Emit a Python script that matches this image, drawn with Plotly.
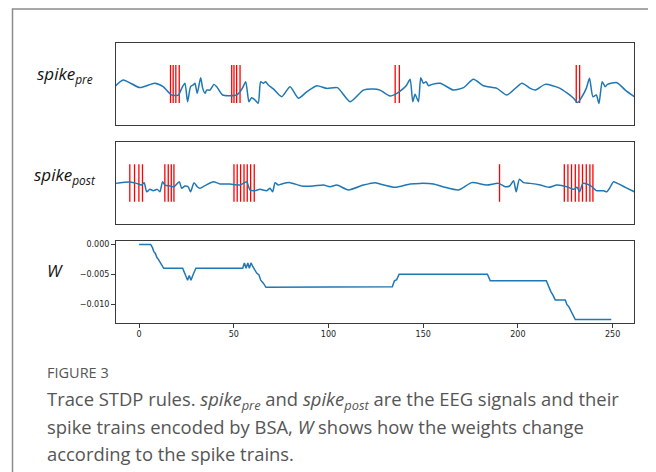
import plotly.graph_objects as go

# ---------------- data ----------------
pre_t = [-12.45, -8.4, 0.4, 8.3, 12.7, 17.2, 20.7, 22.5, 24.2, 25.6, 27.2, 28.6, 29.5, 30.7, 32.5, 33.6,
         34.8, 35.7, 37.4, 39.5, 41.0, 44.1, 51.5, 53.3, 54.7, 56.3, 58.0, 59.4, 61.2, 62.9, 64.2, 65.6,
         66.8, 68.2, 70.9, 75.3, 79.7, 84.1, 88.5, 93.8, 99.1, 104.7, 111.4, 118.4, 123.7, 127.2, 132.5,
         136.1, 139.6, 141.3, 143.1, 144.5, 145.7, 147.5, 148.7, 150.1, 151.5, 152.8, 154.6, 159.0, 166.0,
         171.3, 176.5, 181.8, 188.9, 194.2, 202.1, 206.5, 209.1, 214.4, 222.3, 229.4, 231.5, 233.8, 236.1,
         237.8, 239.6, 241.4, 242.8, 244.5, 246.1, 247.3, 252.3, 256.7, 261.45]
pre_v = [-0.11, 0.21, -0.19, 0.04, -0.14, -0.58, -0.58, -0.23, 0.04, -0.93, -0.14, -0.05, 0.04, -0.49, 0.33, -0.23,
         -0.49, -0.32, -0.32, -0.02, -0.14, -0.58, -0.58, -0.41, -0.19, 0.12, -0.93, -0.72, -0.84, -1.02, 0.12, 0.04,
         0.12, -0.05, -0.26, -0.67, -0.14, -0.75, -0.41, -0.09, -0.23, -0.19, -0.93, -0.32, -0.26, -0.32, -0.63,
         -0.49, -0.23, -0.05, 0.25, -0.93, -0.54, -0.93, 0.33, 0.04, 0.12, -0.09, -0.02, 0.04, -0.32,
         -0.19, 0.25, -0.09, -0.23, -0.58, 0.04, -0.23, -0.32, -0.02, -0.23, -0.75, -0.98, -0.67, -0.23,
         0.30, -0.67, -0.58, -1.02, 0.12, -0.14, -0.02, 0.07, -0.32, -0.67]
pre_spikes = [16.6, 18.0, 19.4, 21.2, 48.9, 50.1, 51.5, 53.3, 135.2, 137.4, 230.8, 232.6]

post_t = [-12.45, -4.9, -1.3, 1.3, 2.7, 4.0, 5.7, 7.5, 9.6, 11.0, 12.4, 13.6, 16.3, 18.4, 21.2, 22.5, 24.2,
          25.9, 27.2, 29.0, 30.7, 32.1, 35.3, 39.2, 42.7, 48.0, 53.3, 56.8, 58.5, 61.2, 63.8, 67.4, 69.1,
          70.5, 71.8, 73.5, 75.3, 79.7, 85.9, 92.0, 97.3, 100.8, 104.4, 110.5, 118.4, 124.6, 127.2, 135.2,
          143.1, 148.4, 155.4, 161.6, 168.6, 175.7, 183.6, 189.7, 193.3, 195.6, 197.7, 199.1, 200.8, 203.0,
          206.5, 211.8, 216.2, 220.6, 225.9, 229.4, 231.2, 232.6, 234.3, 236.5, 239.1, 241.4, 245.2, 247.0,
          248.4, 250.5, 253.2, 256.7, 261.45]
post_v = [-0.02, 0.05, -0.02, -0.11, 0.02, -0.47, -0.34, -0.41, -0.34, -0.47, 0.07, -0.11, -0.16, -0.20, 0.07, -0.28, -0.16,
          -0.20, -0.47, 0.02, -0.20, -0.28, -0.11, 0.07, -0.05, -0.05, -0.11, 0.07, -0.37, -0.41, -0.34, -0.41, -0.28,
          -0.47, 0.02, -0.11, -0.05, 0.02, -0.16, -0.16, -0.11, -0.20, -0.11, -0.37, -0.11, 0.02, -0.05, -0.23,
          -0.05, -0.02, -0.05, -0.23, -0.37, 0.02, -0.11, -0.02, -0.20, -0.16, 0.12, -0.47, 0.20, 0.02,
          -0.02, -0.11, -0.23, -0.11, -0.20, -0.34, -0.23, -0.47, -0.02, -0.05, -0.20, -0.41, -0.41, -0.47,
          -0.28, 0.07, -0.05, -0.23, -0.47]
post_spikes = [-4.9, -2.4, -0.1, 1.8, 13.6, 15.4, 17.0, 18.4, 50.1, 51.8, 53.6, 55.4, 57.1, 58.9, 60.8,
               190.3, 224.5, 226.4, 228.3, 230.3, 232.2, 234.1, 236.1, 238.0, 239.6]

w_t = [0, 6.1, 7.0, 7.8, 8.6, 9.4, 10.2, 11.0, 11.8, 13.0, 23.0, 24.3, 25.6, 26.5, 27.4, 28.6, 30.0,
       54.7, 55.6, 56.5, 57.4, 58.2, 59.1, 60.0, 61.2, 62.1, 63.3, 64.2, 65.6, 67.0, 133.7, 134.8, 136.0,
       137.3, 183.9, 185.4, 215.0, 216.2, 217.4, 218.5, 219.7, 225.0, 225.9, 226.8, 228.0, 229.1, 230.3, 249.3]
w_v = [0, 0, -0.0005, -0.0012, -0.0015, -0.0022, -0.0025, -0.0030, -0.0033, -0.0040, -0.0040, -0.0050,
       -0.0060, -0.0052, -0.0060, -0.0050, -0.0040, -0.0040, -0.0031, -0.0040, -0.0031, -0.0040, -0.0031,
       -0.0037, -0.0043, -0.0048, -0.0051, -0.0060, -0.0065, -0.0072, -0.0071, -0.0061, -0.0059, -0.0050,
       -0.0050, -0.0061, -0.0061, -0.0071, -0.0079, -0.0085, -0.0093, -0.0093, -0.0101, -0.0104, -0.0112,
       -0.0118, -0.0126, -0.0126]

x_ticks = [0, 50, 100, 150, 200, 250]
w_ticks = [0.0, -0.005, -0.010]
w_tick_text = ["0.000", "\u22120.005", "\u22120.010"]

spike_half = 1.0
BLUE = "#1f77b4"
RED = "#ff0000"


def spike_xy(times):
    xs, ys = [], []
    for s in times:
        xs += [s, s, None]
        ys += [-spike_half, spike_half, None]
    return xs, ys


fig = go.Figure()

sx, sy = spike_xy(pre_spikes)
fig.add_trace(go.Scatter(x=sx, y=sy, mode="lines", line=dict(color=RED, width=1.3),
                         xaxis="x", yaxis="y", hoverinfo="skip"))
fig.add_trace(go.Scatter(x=pre_t, y=pre_v, mode="lines",
                         line=dict(color=BLUE, width=1.5, shape="spline", smoothing=0.6),
                         xaxis="x", yaxis="y"))
sx, sy = spike_xy(post_spikes)
fig.add_trace(go.Scatter(x=sx, y=sy, mode="lines", line=dict(color=RED, width=1.3),
                         xaxis="x2", yaxis="y2", hoverinfo="skip"))
fig.add_trace(go.Scatter(x=post_t, y=post_v, mode="lines",
                         line=dict(color=BLUE, width=1.5, shape="spline", smoothing=0.6),
                         xaxis="x2", yaxis="y2"))
fig.add_trace(go.Scatter(x=w_t, y=w_v, mode="lines", line=dict(color=BLUE, width=1.5),
                         xaxis="x3", yaxis="y3"))

# the page body has an 8px margin: the figure is sized to the visible area
OFF = 8
W, H = 656 - OFF, 472 - OFF


def px(x):
    return (x - OFF) / W


def py(y):
    return 1 - (y - OFF) / H


xdom = [px(115.5), px(634.3)]
xr = [-12.45, 261.45]
spine = dict(showline=True, linecolor="#3a3a3a", linewidth=1, mirror=True, zeroline=False, showgrid=False)

fig.update_layout(
    width=W, height=H, margin=dict(l=0, r=0, t=0, b=0),
    paper_bgcolor="white", plot_bgcolor="white", showlegend=False,
    xaxis=dict(domain=xdom, range=xr, showticklabels=False, ticks="", anchor="y", **spine),
    yaxis=dict(domain=[py(125), py(42.7)], range=[-2.158, 2.174], showticklabels=False,
               ticks="", anchor="x", **spine),
    xaxis2=dict(domain=xdom, range=xr, showticklabels=False, ticks="", anchor="y2", **spine),
    yaxis2=dict(domain=[py(223.5), py(141.7)], range=[-2.166, 2.209], showticklabels=False,
                ticks="", anchor="x2", **spine),
    xaxis3=dict(domain=xdom, range=xr, tickvals=x_ticks, ticks="outside", ticklen=3.5, tickwidth=1,
                tickcolor="#3a3a3a", tickfont=dict(family="DejaVu Sans", size=8, color="#222"),
                anchor="y3", **spine),
    yaxis3=dict(domain=[py(323.3), py(241)], range=[-0.01323, 0.00058], tickvals=w_ticks,
                ticktext=w_tick_text, ticks="outside", ticklen=3.5, tickwidth=1, tickcolor="#3a3a3a",
                tickfont=dict(family="DejaVu Sans", size=8, color="#222"), anchor="x3", **spine),
)

# outer frame of the figure box
fig.add_shape(type="rect", xref="paper", yref="paper", x0=px(12.5), x1=px(653.5), y0=-0.1, y1=py(9),
              line=dict(color="#8c8c8c", width=1.5), fillcolor="rgba(0,0,0,0)", layer="below")

lab_font = dict(family="Open Sans", size=17, color="#111")
fig.add_annotation(x=px(65), y=py(75), xref="paper", yref="paper", showarrow=False,
                   text="<i>spike<sub>pre</sub></i>", font=lab_font, xanchor="center", yanchor="middle")
fig.add_annotation(x=px(65), y=py(175), xref="paper", yref="paper", showarrow=False,
                   text="<i>spike<sub>post</sub></i>", font=lab_font, xanchor="center", yanchor="middle")
fig.add_annotation(x=px(55), y=py(270), xref="paper", yref="paper", showarrow=False,
                   text="<i>W</i>", font=lab_font, xanchor="center", yanchor="middle")

cap_font = dict(family="Open Sans", size=18.4, color="#555555")
fig.add_annotation(x=px(45), y=py(372), xref="paper", yref="paper", showarrow=False,
                   text="FIGURE 3", font=dict(family="Open Sans", size=14.5, color="#555555"),
                   xanchor="left", yanchor="middle")
cap_lines = [
    "Trace STDP rules. <i>spike<sub>pre</sub></i> and <i>spike<sub>post</sub></i> are the EEG signals and their",
    "spike trains encoded by BSA, <i>W</i> shows how the weights change",
    "according to the spike trains.",
]
for i, ln in enumerate(cap_lines):
    fig.add_annotation(x=px(45), y=py(400 + 26.5 * i), xref="paper", yref="paper", showarrow=False,
                       text=ln, font=cap_font, xanchor="left", yanchor="middle")

fig.write_html("out.html")
